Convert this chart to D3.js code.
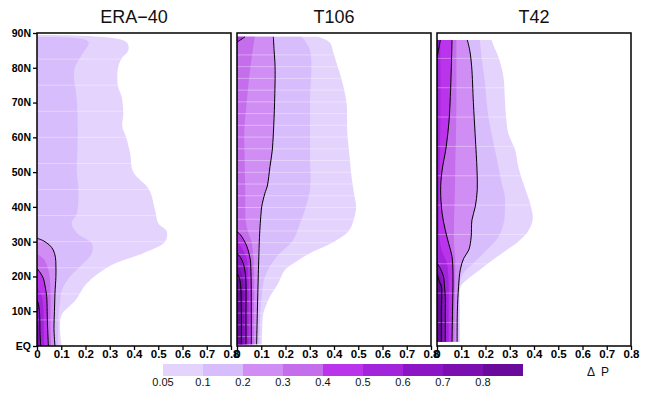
<!DOCTYPE html>
<html>
<head>
<meta charset="utf-8">
<script src="https://cdn.jsdelivr.net/npm/d3@7"></script>
<style>
  body { margin: 0; background: #fff; }
  svg { display: block; font-family: "Liberation Sans", Arial, sans-serif; }
</style>
</head>
<body>
<div id="chart"></div>
<script>
// contour levels of delta P and their fill colours
const levels = [0.05, 0.1, 0.2, 0.3, 0.4, 0.5, 0.6, 0.7, 0.8];
const colors = ['#e4d4fd', '#d7bdfb', '#d08ef5', '#c56eeb', '#b934ea', '#a224db', '#8c16c6', '#7b0fb0', '#6a0a9c'];
const lineLevels = [0.2, 0.4, 0.6, 0.8];

const titles = ['ERA\u221240', 'T106', 'T42'];
const xTicks = [0, 0.1, 0.2, 0.3, 0.4, 0.5, 0.6, 0.7, 0.8];
const latTicks = [0, 10, 20, 30, 40, 50, 60, 70, 80, 90];
const latLabels = ['EQ', '10N', '20N', '30N', '40N', '50N', '60N', '70N', '80N', '90N'];

// outer edge of each level: [latitude, value on x axis]
const era40 = [
  [0.05, [[0,0.102],[5,0.095],[9,0.102],[13,0.157],[18,0.205],[23,0.30],[26.7,0.438],[30,0.528],[33,0.535],[35.3,0.50],[39,0.487],[45,0.462],[50,0.397],[55.4,0.384],[60.2,0.367],[63,0.352],[67,0.356],[71.7,0.349],[75,0.333],[80.3,0.335],[82.7,0.349],[85.1,0.377],[87.5,0.367],[89.4,0]]],
  [0.1, [[0,0.088],[5,0.088],[10,0.09],[12.3,0.095],[16,0.102],[20,0.136],[22.8,0.177],[26.7,0.226],[29.5,0.226],[32.5,0.164],[35.3,0.143],[38,0.164],[45,0.171],[50,0.164],[55,0.166],[61,0.168],[70.7,0.164],[77.4,0.153],[80.3,0.157],[83.6,0.184],[87.5,0.212],[88.8,0]]],
  [0.2, [[0,0.074],[5,0.07],[10,0.072],[15,0.074],[20,0.078],[23,0.078],[25.5,0.076],[27.6,0.067],[29,0.052],[30.3,0.025],[31,0]]],
  [0.3, [[0,0.058],[5,0.056],[10,0.056],[15,0.056],[20,0.052],[23,0.042],[25,0.028],[26.5,0]]],
  [0.4, [[0,0.047],[6.6,0.043],[10,0.042],[14.2,0.04],[17,0.034],[19.5,0.026],[21,0.014],[22.3,0]]],
  [0.5, [[0,0.03],[5,0.028],[10,0.027],[14,0.02],[17,0]]],
  [0.6, [[0,0.015],[4.6,0.012],[9,0.011],[12,0.006],[13.2,0]]],
  [0.7, [[0,0.008],[5,0.006],[9,0]]]
];

const t106 = [
  [0.05, [[0.5,0.102],[5,0.104],[9.4,0.109],[14.2,0.136],[18,0.17],[21.9,0.198],[24.5,0.25],[26.7,0.301],[30,0.40],[32.9,0.459],[36,0.48],[40,0.491],[44,0.482],[50,0.47],[53.5,0.466],[61.2,0.455],[65,0.454],[69.8,0.452],[76.5,0.432],[81.3,0.411],[85,0.395],[87.2,0.384],[88.9,0.335]]],
  [0.1, [[0.5,0.092],[6.5,0.094],[10,0.097],[14.2,0.102],[19.9,0.115],[25.7,0.164],[30.5,0.232],[35.3,0.26],[39.1,0.28],[44.9,0.301],[56,0.301],[70,0.301],[85,0.301],[88.9,0.267]]],
  [0.2, [[0.5,0.081],[10,0.084],[20.8,0.088],[30,0.092],[34.3,0.095],[38,0.099],[40.1,0.102],[43.9,0.115],[46,0.125],[51.6,0.136],[56,0.145],[61.2,0.15],[70,0.155],[80.3,0.157],[85,0.153],[88.9,0.15]]],
  [0.3, [[0.5,0.07],[10,0.07],[20,0.071],[25,0.068],[28,0.064],[30,0.06],[33,0.045],[36,0.036],[45,0.034],[56,0.031],[61,0.03],[70.7,0.041],[80,0.055],[85,0.065],[88.9,0.074]]],
  [0.4, [[0.5,0.059],[10,0.059],[20,0.058],[24.7,0.055],[27,0.048],[28.6,0.041],[30.5,0.028],[32,0.014],[32.9,0]]],
  [0.4, [[87.3,0],[88.1,0.016],[88.9,0.033]]],
  [0.5, [[0.5,0.048],[10,0.048],[20,0.047],[25,0.04],[27.5,0.025],[29.5,0.008],[30,0]]],
  [0.6, [[0.5,0.037],[10,0.037],[18,0.037],[21,0.034],[23.8,0.026],[25.5,0.014],[26.7,0]]],
  [0.7, [[0.5,0.028],[10,0.028],[18,0.026],[21,0.018],[22.5,0.008],[23.2,0]]],
  [0.8, [[0.5,0.018],[10,0.018],[18.1,0.014],[20,0.007],[20.9,0]]]
];

const t42 = [
  [0.05, [[1.2,0.095],[10,0.095],[17.1,0.098],[19,0.122],[21.9,0.177],[25,0.235],[27.6,0.287],[30,0.335],[32.4,0.37],[35,0.39],[37.2,0.395],[41,0.384],[43.9,0.37],[48,0.35],[51.6,0.335],[56.4,0.322],[61.2,0.294],[65,0.286],[70.7,0.28],[77.4,0.274],[83.2,0.253],[86,0.236],[88,0.225]]],
  [0.1, [[1.2,0.09],[10,0.09],[17.1,0.092],[20.9,0.108],[23.8,0.15],[28.6,0.219],[31,0.25],[33.4,0.267],[36,0.277],[39.1,0.28],[43,0.28],[46.8,0.267],[52,0.252],[56.4,0.239],[61,0.225],[65.9,0.212],[70,0.205],[75.5,0.198],[82,0.186],[88,0.177]]],
  [0.2, [[1.2,0.083],[10,0.084],[17.1,0.089],[21.9,0.096],[25.2,0.11],[27.6,0.131],[31.4,0.141],[36.2,0.144],[40.1,0.158],[44.9,0.166],[50.6,0.165],[55,0.162],[61.2,0.157],[70,0.15],[80.3,0.143],[85,0.135],[88,0.125]]],
  [0.3, [[1.2,0.072],[10,0.073],[20,0.075],[25,0.075],[30,0.07],[35,0.07],[40,0.072],[45,0.074],[50,0.075],[60,0.078],[70,0.08],[80,0.08],[88,0.08]]],
  [0.4, [[1.2,0.062],[10,0.064],[20,0.066],[25.7,0.062],[29.5,0.048],[33.4,0.034],[38.2,0.021],[44.9,0.015],[50,0.02],[57.3,0.038],[65,0.05],[71.7,0.055],[80,0.059],[88,0.062]]],
  [0.5, [[1.2,0.048],[10,0.048],[20,0.047],[24,0.04],[27,0.022],[30,0.012],[40,0.009],[50,0.011],[60,0.013],[70,0.014],[80,0.014],[88,0.013]]],
  [0.6, [[1.2,0.034],[10,0.034],[14.2,0.034],[18,0.03],[19.9,0.027],[22.5,0.012],[23.8,0]]],
  [0.6, [[83,0],[85,0.006],[88,0.014]]],
  [0.7, [[1.2,0.026],[10,0.026],[16,0.025],[19,0.018],[21.5,0.006],[22.3,0]]],
  [0.8, [[1.2,0.018],[10,0.018],[17.1,0.018],[18.5,0.01],[20.9,0]]]
];

const panels = [era40, t106, t42];
// grid spacing of each data set (faint seams every third row)
const seamStep = [7.5, 3.375, 8.4375];
const seamTop = [82.5, 83.7, 82.7];

const width = 647, height = 394;
const panelX = [37, 237, 437], panelW = 194, plotTop = 33, plotBottom = 346;

const svg = d3.select('#chart').append('svg')
    .attr('width', width)
    .attr('height', height);

svg.append('rect').attr('width', width).attr('height', height).attr('fill', '#fff');

const y = d3.scaleLinear().domain([0, 90]).range([plotBottom, plotTop]);
const colorOf = lev => colors[levels.indexOf(lev)];

panels.forEach((data, i) => {
    const x = d3.scaleLinear().domain([0, 0.8]).range([panelX[i], panelX[i] + panelW]);
    const g = svg.append('g');

    g.append('clipPath').attr('id', 'clip' + i)
        .append('rect')
        .attr('x', panelX[i]).attr('y', plotTop)
        .attr('width', panelW).attr('height', plotBottom - plotTop);

    const body = g.append('g').attr('clip-path', `url(#clip${i})`);

    const area = d3.area()
        .x0(x(0))
        .x1(d => x(d[1]))
        .y(d => y(d[0]))
        .curve(d3.curveCatmullRom.alpha(0.5));
    const line = d3.line()
        .x(d => x(d[1]))
        .y(d => y(d[0]))
        .curve(d3.curveCatmullRom.alpha(0.5));

    body.selectAll('path.fill')
        .data(data)
        .enter().append('path')
        .attr('class', 'fill')
        .attr('d', d => area(d[1]))
        .attr('fill', d => colorOf(d[0]));

    // faint seams from the original plotting
    const seams = d3.range(seamTop[i], 1, -seamStep[i]);
    body.selectAll('line.seam')
        .data(seams)
        .enter().append('line')
        .attr('class', 'seam')
        .attr('x1', x(0)).attr('x2', x(0.8))
        .attr('y1', d => y(d)).attr('y2', d => y(d))
        .attr('stroke', '#fff')
        .attr('stroke-opacity', 0.35)
        .attr('stroke-width', 1);

    body.selectAll('path.contour')
        .data(data.filter(d => lineLevels.includes(d[0])))
        .enter().append('path')
        .attr('class', 'contour')
        .attr('d', d => line(d[1]))
        .attr('fill', 'none')
        .attr('stroke', '#000')
        .attr('stroke-width', 1);

    // x axis
    const xAxis = g.append('g')
        .attr('transform', `translate(0,${plotBottom})`)
        .call(d3.axisBottom(x).tickValues(xTicks).tickSize(4).tickPadding(0)
            .tickFormat(d => d === 0 ? '0' : d3.format('.1f')(d)));
    xAxis.select('.domain').remove();
    xAxis.attr('font-family', null).attr('font-size', 11.5).attr('font-weight', 'bold');
    xAxis.selectAll('line').attr('stroke-width', 1.3);
    xAxis.selectAll('text').attr('fill', '#000');

    if (i === 0) {
        const yAxis = g.append('g')
            .attr('transform', `translate(${panelX[i]},0)`)
            .call(d3.axisLeft(y).tickValues(latTicks).tickSize(4).tickPadding(2)
                .tickFormat((d, k) => latLabels[k]));
        yAxis.select('.domain').remove();
        yAxis.attr('font-family', null).attr('font-size', 10.5).attr('font-weight', 'bold');
        yAxis.selectAll('line').attr('stroke-width', 1.3);
        yAxis.selectAll('text').attr('fill', '#000');
    }

    g.append('rect')
        .attr('x', panelX[i]).attr('y', plotTop)
        .attr('width', panelW).attr('height', plotBottom - plotTop)
        .attr('fill', 'none')
        .attr('stroke', '#000')
        .attr('stroke-width', 1.5);

    g.append('text')
        .attr('x', panelX[i] + panelW / 2)
        .attr('y', 23)
        .attr('text-anchor', 'middle')
        .attr('font-size', 18)
        .attr('fill', '#111')
        .text(titles[i]);
});

// colour bar
const cb = d3.scaleLinear().domain([0, levels.length]).range([163, 523]);
const bar = svg.append('g');
bar.selectAll('rect')
    .data(colors)
    .enter().append('rect')
    .attr('x', (d, k) => cb(k))
    .attr('y', 364)
    .attr('width', (d, k) => cb(k + 1) - cb(k))
    .attr('height', 12)
    .attr('fill', d => d);
bar.selectAll('text')
    .data(levels)
    .enter().append('text')
    .attr('x', (d, k) => cb(k))
    .attr('y', 386)
    .attr('text-anchor', 'middle')
    .attr('font-size', 11)
    .attr('fill', '#111')
    .text(d => d);

svg.append('text')
    .attr('x', 587)
    .attr('y', 376)
    .attr('font-size', 12)
    .attr('fill', '#111')
    .style('white-space', 'pre')
    .text('\u0394  P');
</script>
</body>
</html>
